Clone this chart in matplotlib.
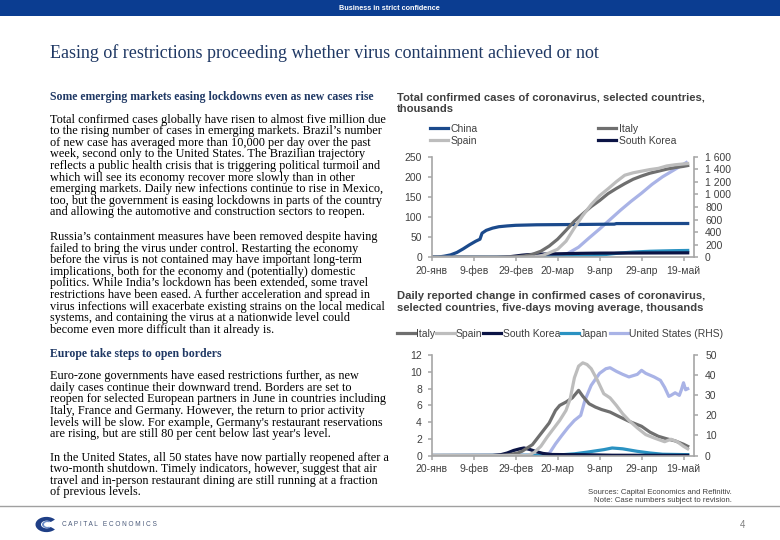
import matplotlib
matplotlib.use('Agg')
import matplotlib.pyplot as plt
import matplotlib.ticker as mticker
import pandas as pd
from matplotlib.patches import Rectangle, Wedge
from matplotlib import font_manager

# ---------------- DATA ----------------
x_tick_dates = ['2020-01-20', '2020-02-09', '2020-02-29', '2020-03-20',
                '2020-04-09', '2020-04-29', '2020-05-19']
x_tick_labels = ['20-янв', '9-фев', '29-фев', '20-мар', '9-апр', '29-апр', '19-май']

# Top chart: total confirmed cases, thousands (US on RHS)
china_dates = ['2020-01-20', '2020-01-23', '2020-01-26', '2020-01-29', '2020-02-01', '2020-02-04',
               '2020-02-07', '2020-02-10', '2020-02-12', '2020-02-13', '2020-02-15', '2020-02-18',
               '2020-02-21', '2020-02-25', '2020-02-29', '2020-03-10', '2020-03-20', '2020-03-31',
               '2020-04-16', '2020-04-17', '2020-05-21']
china_total = [0.3, 0.6, 2.8, 6, 12, 21, 31, 40, 45, 60, 67, 72.5, 76, 78, 79.5, 80.8, 81.2, 81.6,
               82.4, 83.8, 84]

italy_dates = ['2020-01-20', '2020-02-21', '2020-02-25', '2020-02-29', '2020-03-04', '2020-03-08',
               '2020-03-12', '2020-03-16', '2020-03-20', '2020-03-24', '2020-03-28', '2020-04-01',
               '2020-04-05', '2020-04-09', '2020-04-13', '2020-04-17', '2020-04-21', '2020-04-25',
               '2020-04-29', '2020-05-03', '2020-05-07', '2020-05-11', '2020-05-15', '2020-05-19',
               '2020-05-21']
italy_total = [0, 0.02, 0.3, 1.1, 3.1, 7.4, 15, 28, 45, 67, 90, 108, 126, 141, 158, 171, 183, 194,
               202, 209, 214, 219, 223, 226, 228]

spain_dates = ['2020-01-20', '2020-03-01', '2020-03-05', '2020-03-09', '2020-03-13', '2020-03-16',
               '2020-03-20', '2020-03-24', '2020-03-28', '2020-04-01', '2020-04-05', '2020-04-09',
               '2020-04-13', '2020-04-17', '2020-04-21', '2020-04-25', '2020-04-29', '2020-05-03',
               '2020-05-07', '2020-05-11', '2020-05-15', '2020-05-19', '2020-05-21']
spain_total = [0, 0.08, 0.3, 1.2, 5, 11, 20, 40, 73, 104, 131, 153, 170, 188, 204, 210, 214, 218,
               221, 227, 230, 232, 233]

korea_dates = ['2020-01-20', '2020-02-17', '2020-02-20', '2020-02-23', '2020-02-26', '2020-02-29',
               '2020-03-03', '2020-03-06', '2020-03-10', '2020-03-15', '2020-03-20', '2020-03-31',
               '2020-04-09', '2020-04-30', '2020-05-21']
korea_total = [0, 0.03, 0.1, 0.6, 1.3, 3.2, 5.2, 6.6, 7.5, 8.2, 8.7, 9.8, 10.4, 10.8, 11.1]

japan_dates = ['2020-01-20', '2020-02-15', '2020-03-01', '2020-03-20', '2020-03-31', '2020-04-05',
               '2020-04-09', '2020-04-13', '2020-04-17', '2020-04-21', '2020-04-25', '2020-04-29',
               '2020-05-03', '2020-05-09', '2020-05-15', '2020-05-21']
japan_total = [0, 0.05, 0.25, 0.95, 2.2, 3.6, 5.3, 7.6, 9.8, 11.5, 13, 14, 15, 15.8, 16.5, 17]

us_dates = ['2020-01-20', '2020-02-29', '2020-03-05', '2020-03-10', '2020-03-15', '2020-03-20',
            '2020-03-25', '2020-03-30', '2020-04-04', '2020-04-09', '2020-04-14', '2020-04-19',
            '2020-04-24', '2020-04-29', '2020-05-04', '2020-05-09', '2020-05-14', '2020-05-19',
            '2020-05-21']
us_total = [0, 0.07, 0.2, 1, 3.5, 19, 65, 161, 308, 450, 600, 750, 890, 1020, 1160, 1280, 1380,
            1480, 1520]

# Bottom chart: daily change, five-day moving average, thousands (US on RHS)
italy_d_dates = ['2020-01-20', '2020-02-22', '2020-02-26', '2020-03-01', '2020-03-03', '2020-03-08',
                 '2020-03-12', '2020-03-16', '2020-03-19', '2020-03-21', '2020-03-24', '2020-03-27',
                 '2020-03-30', '2020-04-01', '2020-04-04', '2020-04-07', '2020-04-10', '2020-04-14',
                 '2020-04-18', '2020-04-23', '2020-04-29', '2020-05-03', '2020-05-07', '2020-05-11',
                 '2020-05-15', '2020-05-19', '2020-05-21']
italy_daily = [0, 0, 0.1, 0.3, 0.5, 1.3, 2.6, 3.9, 5.4, 6.0, 6.4, 6.9, 7.8, 7.1, 6.2, 5.8, 5.5, 5.2,
               4.7, 4.1, 3.5, 2.8, 2.3, 2.0, 1.75, 1.35, 1.1]

spain_d_dates = ['2020-01-20', '2020-03-06', '2020-03-09', '2020-03-12', '2020-03-15', '2020-03-18',
                 '2020-03-21', '2020-03-24', '2020-03-26', '2020-03-28', '2020-03-30', '2020-04-01',
                 '2020-04-03', '2020-04-05', '2020-04-08', '2020-04-11', '2020-04-14', '2020-04-17',
                 '2020-04-20', '2020-04-23', '2020-04-27', '2020-05-01', '2020-05-05', '2020-05-10',
                 '2020-05-13', '2020-05-16', '2020-05-19', '2020-05-21']
spain_daily = [0, 0, 0.4, 1.1, 2.2, 3.2, 4.2, 5.4, 6.8, 9.3, 10.7, 11.1, 10.9, 10.4, 9.0, 7.4, 6.9,
               6.0, 5.0, 4.2, 3.3, 2.5, 2.1, 1.65, 1.95, 1.65, 1.1, 0.8]

korea_d_dates = ['2020-01-20', '2020-02-18', '2020-02-22', '2020-02-25', '2020-02-28', '2020-03-02',
                 '2020-03-04', '2020-03-07', '2020-03-10', '2020-03-13', '2020-03-17', '2020-03-25',
                 '2020-04-05', '2020-04-15', '2020-05-21']
korea_daily = [0, 0, 0.1, 0.3, 0.6, 0.8, 0.9, 0.7, 0.45, 0.25, 0.12, 0.1, 0.08, 0.03, 0.02]

japan_d_dates = ['2020-01-20', '2020-03-01', '2020-03-20', '2020-03-28', '2020-04-03', '2020-04-11',
                 '2020-04-15', '2020-04-20', '2020-04-27', '2020-05-03', '2020-05-09', '2020-05-21']
japan_daily = [0, 0.02, 0.05, 0.2, 0.4, 0.7, 0.9, 0.8, 0.5, 0.3, 0.15, 0.1]

us_d_dates = ['2020-01-20', '2020-03-13', '2020-03-16', '2020-03-19', '2020-03-22', '2020-03-25',
              '2020-03-28', '2020-03-31', '2020-04-02', '2020-04-05', '2020-04-09', '2020-04-12',
              '2020-04-14', '2020-04-17', '2020-04-20', '2020-04-23', '2020-04-27', '2020-04-29',
              '2020-05-01', '2020-05-05', '2020-05-08', '2020-05-10', '2020-05-12', '2020-05-13',
              '2020-05-15', '2020-05-17', '2020-05-18', '2020-05-19', '2020-05-20', '2020-05-21']
us_daily = [0, 0.2, 1, 5.8, 10, 14, 17.5, 20, 27.5, 35, 41, 43.3, 43.8, 42, 40.5, 39.2, 40.5, 42.5,
            41, 39.2, 37.5, 34, 29.5, 30, 31.3, 30, 32.8, 36.3, 32.8, 33.3]

top_left_ticks = [0, 50, 100, 150, 200, 250]
top_right_ticks = [0, 200, 400, 600, 800, 1000, 1200, 1400, 1600]
bot_left_ticks = [0, 2, 4, 6, 8, 10, 12]
bot_right_ticks = [0, 10, 20, 30, 40, 50]

# ---------------- STYLE ----------------
names = {f.name for f in font_manager.fontManager.ttflist}
SANS = 'Liberation Sans' if 'Liberation Sans' in names else 'DejaVu Sans'
SERIF = 'Liberation Serif' if 'Liberation Serif' in names else 'DejaVu Serif'
plt.rcParams['font.family'] = [SANS, 'DejaVu Sans']

C_CHINA = '#1b4a8c'
C_ITALY = '#6f6f6f'
C_SPAIN = '#bdbdbd'
C_KOREA = '#0b1445'
C_JAPAN = '#2a92c2'
C_US = '#a9b3e6'
C_AXIS = '#a6a6a6'
C_TXT = '#404040'
NAVY = '#1f3864'
LW = 2.3

W, H = 780, 540
fig = plt.figure(figsize=(7.8, 5.4), dpi=100)


def fx(x):
    return x / W


def fy(y):
    return 1 - y / H


# header bar
fig.patches.append(Rectangle((0, fy(16)), 1, 16 / H, transform=fig.transFigure,
                             facecolor='#0b3d91', edgecolor='none'))
fig.text(fx(389), fy(8), 'Business in strict confidence', color='white', fontsize=5.2,
         fontweight='bold', ha='center', va='center', family=SANS)

# title
fig.text(fx(50), fy(57.5), 'Easing of restrictions proceeding whether virus containment achieved or not',
         color=NAVY, fontsize=13.0, ha='left', va='baseline', family=SERIF)

# left column text
BODY = 8.85
HEAD = 8.5
STEP = 11.62
BASE = 3.2


def para(lines, y0):
    for i, t in enumerate(lines):
        fig.text(fx(50), fy(y0 + i * STEP + BASE), t, fontsize=BODY, family=SERIF, color='black',
                 ha='left', va='baseline')


fig.text(fx(50), fy(97 + BASE), 'Some emerging markets easing lockdowns even as new cases rise',
         fontsize=HEAD, family=SERIF, fontweight='bold', color=NAVY, ha='left', va='baseline')
para(["Total confirmed cases globally have risen to almost five million due",
      "to the rising number of cases in emerging markets. Brazil’s number",
      "of new case has averaged more than 10,000 per day over the past",
      "week, second only to the United States. The Brazilian trajectory",
      "reflects a public health crisis that is triggering political turmoil and",
      "which will see its economy recover more slowly than in other",
      "emerging markets. Daily new infections continue to rise in Mexico,",
      "too, but the government is easing lockdowns in parts of the country",
      "and allowing the automotive and construction sectors to reopen."], 119.3)
para(["Russia’s containment measures have been removed despite having",
      "failed to bring the virus under control. Restarting the economy",
      "before the virus is not contained may have important long-term",
      "implications, both for the economy and (potentially) domestic",
      "politics. While India’s lockdown has been extended, some travel",
      "restrictions have been eased. A further acceleration and spread in",
      "virus infections will exacerbate existing strains on the local medical",
      "systems, and containing the virus at a nationwide level could",
      "become even more difficult than it already is."], 236.7)
fig.text(fx(50), fy(354 + BASE), 'Europe take steps to open borders',
         fontsize=HEAD, family=SERIF, fontweight='bold', color=NAVY, ha='left', va='baseline')
para(["Euro-zone governments have eased restrictions further, as new",
      "daily cases continue their downward trend. Borders are set to",
      "reopen for selected European partners in June in countries including",
      "Italy, France and Germany. However, the return to prior activity",
      "levels will be slow. For example, Germany's restaurant reservations",
      "are rising, but are still 80 per cent below last year's level."], 376)
para(["In the United States, all 50 states have now partially reopened after a",
      "two-month shutdown. Timely indicators, however, suggest that air",
      "travel and in-person restaurant dining are still running at a fraction",
      "of previous levels."], 457.3)

# footer
fig.add_artist(plt.Line2D([0, 1], [fy(506), fy(506)], transform=fig.transFigure,
                          color='#a0a0a0', lw=1))
fig.patches.append(Wedge((fx(46.5), fy(524.5)), 11 / W, 40, 320, width=5.5 / W,
                         transform=fig.transFigure, facecolor='#1f3f86', edgecolor='none'))
fig.patches.append(Wedge((fx(47.5), fy(524.5)), 5.5 / W, 60, 300, width=2.0 / W,
                         transform=fig.transFigure, facecolor='#6f8fc8', edgecolor='none'))
fig.text(fx(62), fy(524), 'C A P I T A L   E C O N O M I C S', fontsize=4.7, color='#4a5a7a',
         ha='left', va='center', family=SANS)
fig.text(fx(732), fy(492), 'Sources: Capital Economics and Refinitiv.', fontsize=5.6, color=C_TXT,
         ha='right', va='center', family=SANS)
fig.text(fx(732), fy(501), 'Note: Case numbers subject to revision.', fontsize=5.6, color=C_TXT,
         ha='right', va='center', family=SANS)
fig.text(fx(742), fy(525), '4', fontsize=7, color='#7f7f7f', ha='center', va='center', family=SANS)

# chart titles
TFS = 8.15
fig.text(fx(397), fy(97), 'Total confirmed cases of coronavirus, selected countries,', fontsize=TFS,
         fontweight='bold', color=C_TXT, ha='left', va='center', family=SANS)
fig.text(fx(397), fy(108.5), 'thousands', fontsize=TFS,
         fontweight='bold', color=C_TXT, ha='left', va='center', family=SANS)
fig.text(fx(397), fy(296), 'Daily reported change in confirmed cases of coronavirus,', fontsize=TFS,
         fontweight='bold', color=C_TXT, ha='left', va='center', family=SANS)
fig.text(fx(397), fy(308.3), 'selected countries, five-days moving average, thousands', fontsize=TFS,
         fontweight='bold', color=C_TXT, ha='left', va='center', family=SANS)

x0 = pd.Timestamp('2020-01-20')
x1 = x0 + pd.Timedelta(days=125)
tick_pos = pd.to_datetime(x_tick_dates)


def style_axes(ax, ax2, lticks, rticks, rfmt):
    ax.set_xlim(x0, x1)
    ax.set_zorder(ax2.get_zorder() + 1)
    ax.patch.set_visible(False)
    for s in ['top', 'right']:
        ax.spines[s].set_visible(False)
    for s in ['top', 'left', 'bottom']:
        ax2.spines[s].set_visible(False)
    for s in ['left', 'bottom']:
        ax.spines[s].set_color(C_AXIS)
        ax.spines[s].set_linewidth(1.2)
    ax2.spines['right'].set_color(C_AXIS)
    ax2.spines['right'].set_linewidth(1.2)
    ax.set_xticks(tick_pos)
    ax.set_xticklabels(x_tick_labels)
    ax.set_yticks(lticks)
    ax.set_ylim(lticks[0], lticks[-1])
    ax2.set_yticks(rticks)
    ax2.set_ylim(rticks[0], rticks[-1])
    ax2.yaxis.set_major_formatter(mticker.FuncFormatter(rfmt))
    ax.tick_params(axis='both', colors=C_AXIS, labelcolor=C_TXT, labelsize=7.5, length=3,
                   width=1.1, direction='out')
    ax.tick_params(axis='y', pad=4)
    ax.tick_params(axis='x', pad=3)
    ax2.tick_params(axis='y', colors=C_AXIS, labelcolor=C_TXT, labelsize=7.5, length=3,
                    width=1.1, direction='out', pad=5)
    ax.margins(x=0)


def thou(v, p):
    v = int(round(v))
    return f'{v:,}'.replace(',', ' ')


# ---------------- TOP CHART ----------------
axA = fig.add_axes([fx(431.7), fy(257.3), (694 - 431.7) / W, (257.3 - 156.7) / H])
axA2 = axA.twinx()
axA2.plot(pd.to_datetime(us_dates), us_total, color=C_US, lw=LW, solid_capstyle='butt')
axA.plot(pd.to_datetime(japan_dates), japan_total, color=C_JAPAN, lw=LW)
lk, = axA.plot(pd.to_datetime(korea_dates), korea_total, color=C_KOREA, lw=LW)
lc, = axA.plot(pd.to_datetime(china_dates), china_total, color=C_CHINA, lw=LW)
li, = axA.plot(pd.to_datetime(italy_dates), italy_total, color=C_ITALY, lw=LW)
ls, = axA.plot(pd.to_datetime(spain_dates), spain_total, color=C_SPAIN, lw=LW)
style_axes(axA, axA2, top_left_ticks, top_right_ticks, thou)
axA.legend([lc, ls, li, lk], ['China', 'Spain', 'Italy', 'South Korea'], ncol=2,
           loc='upper left', bbox_to_anchor=(fx(430), fy(123.5)), bbox_transform=fig.transFigure,
           frameon=False, fontsize=7.5, handlelength=1.75, handletextpad=0.25,
           columnspacing=11.5, labelspacing=0.25, borderpad=0, borderaxespad=0,
           labelcolor=C_TXT)

# ---------------- BOTTOM CHART ----------------
axB = fig.add_axes([fx(431.7), fy(455.5), (694 - 431.7) / W, (455.5 - 355.3) / H])
axB2 = axB.twinx()
lu, = axB2.plot(pd.to_datetime(us_d_dates), us_daily, color=C_US, lw=LW)
lj, = axB.plot(pd.to_datetime(japan_d_dates), japan_daily, color=C_JAPAN, lw=LW)
lk2, = axB.plot(pd.to_datetime(korea_d_dates), korea_daily, color=C_KOREA, lw=LW)
li2, = axB.plot(pd.to_datetime(italy_d_dates), italy_daily, color=C_ITALY, lw=LW)
ls2, = axB.plot(pd.to_datetime(spain_d_dates), spain_daily, color=C_SPAIN, lw=LW)
style_axes(axB, axB2, bot_left_ticks, bot_right_ticks, lambda v, p: f'{int(round(v))}')
axB.legend([li2, ls2, lk2, lj, lu], ['Italy', 'Spain', 'South Korea', 'Japan', 'United States (RHS)'],
           ncol=5, loc='center left', bbox_to_anchor=(fx(397), fy(334)),
           bbox_transform=fig.transFigure, frameon=False, fontsize=7.5, handlelength=1.75,
           handletextpad=0.1, columnspacing=0.1, borderpad=0, borderaxespad=0,
           labelcolor=C_TXT)

fig.savefig('out.png', dpi=100)
